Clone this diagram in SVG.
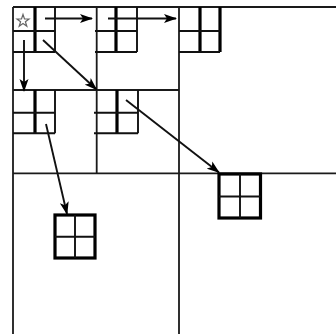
<svg xmlns="http://www.w3.org/2000/svg" width="336" height="334" viewBox="0 0 336 334">
<defs>
<style>
.g{stroke:#1a1a1a;stroke-width:1.8;fill:none}
.t{stroke:#000;stroke-width:3.2;fill:none}
.m{stroke:#111;stroke-width:1.9;fill:none}
.c{stroke:#111;stroke-width:1.9;fill:none}
</style>
<marker id="ah" markerUnits="userSpaceOnUse" markerWidth="13" markerHeight="10" viewBox="0 0 13 10" refX="12" refY="5" orient="auto">
<path d="M0,0.5 L13,5 L0,9.5 L3,5 Z" fill="#000"/>
</marker>
</defs>
<rect width="336" height="334" fill="#fff"/>
<g id="grid">
<path class="g" d="M13,7 H336 M13,7 V334 M179,7 V334 M13,173.3 H336 M96.7,7 V173.3 M13,90 H179"/>
</g>
<g id="b1">
<path class="t" d="M35,7 V52"/>
<path class="m" d="M13,31 H55 M13,52 H55 M55,7 V52"/>
<path d="M23,14.5 L24.5,19 L29,19 L25.4,21.8 L26.8,26.2 L23,23.5 L19.2,26.2 L20.6,21.8 L17,19 L21.5,19 Z" fill="none" stroke="#666" stroke-width="1.2"/>
</g>
<g id="b2">
<path class="t" d="M116,7 V52"/>
<path class="m" d="M95,31 H137 M95,52 H137 M137,7 V52"/>
</g>
<g id="b3">
<path class="t" d="M200,7 V52 M220,7 V52"/>
<path class="m" d="M179,31 H220 M179,52 H220"/>
</g>
<g id="b4">
<path class="t" d="M35,90 V133"/>
<path class="m" d="M13,112.7 H55 M13,133.3 H55 M55,90 V133.3"/>
</g>
<g id="b5">
<path class="t" d="M117,90 V133"/>
<path class="m" d="M94,112.7 H138 M94,133.3 H138 M138,90 V133.3"/>
</g>
<g id="b6">
<rect class="t" x="55" y="215" width="40" height="43"/>
<path class="m" d="M75,215 V258 M55,236.7 H95" stroke-width="2.2"/>
</g>
<g id="b7">
<rect class="t" x="219" y="174" width="41.5" height="44"/>
<path class="m" d="M240,174 V218 M219,196.5 H260.5" stroke-width="2.2"/>
</g>
<g id="connectors">
<line class="c" x1="45" y1="18.5" x2="92" y2="18.5" marker-end="url(#ah)" stroke-width="2.6"/>
<line class="c" x1="108" y1="18.5" x2="176" y2="18.5" marker-end="url(#ah)" stroke-width="2.6"/>
<line class="c" x1="24" y1="40" x2="24" y2="91" marker-end="url(#ah)"/>
<line class="c" x1="43" y1="40" x2="96.5" y2="89.5" marker-end="url(#ah)"/>
<line class="c" x1="126" y1="100" x2="219" y2="172.5" marker-end="url(#ah)"/>
<line class="c" x1="46" y1="124" x2="67" y2="214" marker-end="url(#ah)"/>
</g>
</svg>
